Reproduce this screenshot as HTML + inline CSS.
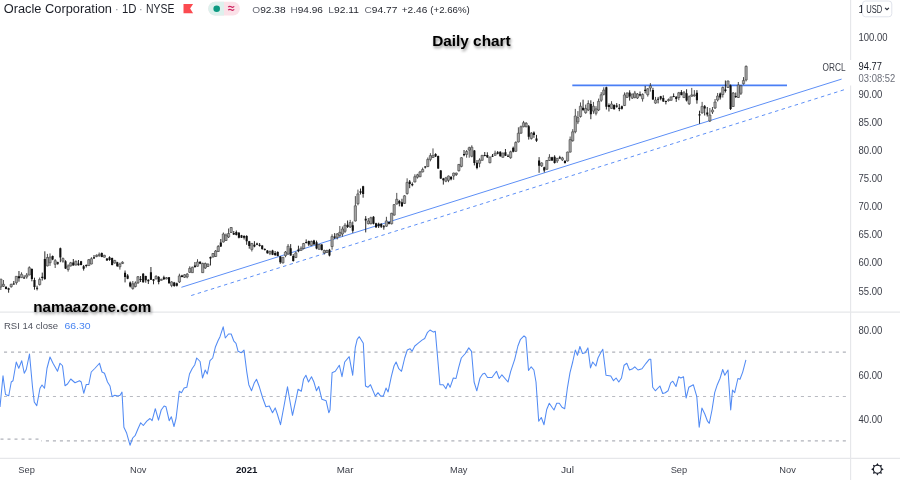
<!DOCTYPE html>
<html><head><meta charset="utf-8"><title>Oracle Corporation · 1D · NYSE</title>
<style>
html,body{margin:0;padding:0;width:900px;height:480px;overflow:hidden;background:#fff;}
body{position:relative;font-family:"Liberation Sans",Arial,sans-serif;}
svg{position:absolute;left:0;top:0;display:block;will-change:transform;}
.ax{font-family:"Liberation Sans",Arial,sans-serif;font-size:10.2px;fill:#3b3e48;}
.tm{font-family:"Liberation Sans",Arial,sans-serif;font-size:9.5px;fill:#3b3e48;}
.hd{font-family:"Liberation Sans",Arial,sans-serif;}
.sh{font-family:"Liberation Sans",Arial,sans-serif;font-weight:bold;fill:#000;}
</style></head><body>
<svg width="900" height="480" viewBox="0 0 900 480">
<defs>
<filter id="tsh" x="-10%" y="-30%" width="120%" height="180%">
<feGaussianBlur in="SourceAlpha" stdDeviation="1.4"/>
<feOffset dx="0.8" dy="2.4" result="b"/>
<feComponentTransfer><feFuncA type="linear" slope="0.45"/></feComponentTransfer>
<feMerge><feMergeNode/><feMergeNode in="SourceGraphic"/></feMerge>
</filter>
</defs>
<!-- pane separators -->
<g stroke="#e6e7ea" stroke-width="1.15" fill="none">
<path d="M850.6 0V480"/>
<path d="M0 312.1H900"/>
<path d="M0 458.3H900"/>
</g>
<!-- RSI bands -->
<g stroke="#b0b2ba" stroke-width="1.2" fill="none" stroke-dasharray="3.1 3.89">
<path d="M4 352.2H849"/>
<path d="M0.5 439.1H40" stroke-dasharray="3 4"/>
<path d="M41.4 440.9H42"/>
<path d="M45.9 440.9H849"/>
<path d="M4 396.5H849" stroke="#b9bbc2" stroke-width="1.1"/>
</g>
<!-- RSI line -->
<path d="M0 407 L3 375.75 L5.5 394.5 L8.75 395.75 L11.25 382 L13 380.75 L16.25 362 L18.75 368.25 L21.75 360.75 L24.25 373.25 L26.25 369.5 L29.5 354 L32.5 387 L34.25 402 L36.75 405.75 L40 388.25 L42 385 L44.5 388.25 L47 368.25 L50 357 L53 363.25 L57.5 371.25 L60 363.25 L62.5 365.75 L65 385.75 L67.5 384 L70.75 379 L75 382.75 L79.5 380.75 L81.25 382 L83.75 393.25 L86.25 384.5 L88.75 384.5 L91.25 372 L95 368.25 L99.5 363.25 L102 372 L104.5 373.25 L107.5 382 L110 386 L112.1 396.7 L114.8 395.3 L118 396.1 L120.1 395.3 L122 392.1 L123.9 427.3 L126.5 432.7 L130 445.2 L132.7 438 L135.3 435.3 L138 428.7 L140.7 422.8 L143.3 425.5 L146.8 421.2 L150 418.5 L152.1 420.7 L155.3 408.7 L158.5 420.1 L161.2 410 L164.1 406 L166 406.8 L169.2 420.7 L171.3 416.7 L174 426.5 L176.1 418 L179.3 391.3 L181.5 392.7 L184.1 388.1 L186.8 387.3 L189.5 374 L192.1 368.7 L194.8 364.7 L196.7 358 L200.1 361.5 L202.5 378 L205.2 370 L207.3 374 L210 360.7 L212.7 358 L215.3 347.3 L218 340.7 L220 336.7 L223.2 326.8 L225.3 338 L228.5 334 L231.2 334 L233.9 341.2 L236 343.3 L238.1 351.3 L241.3 352.7 L244 350 L246.7 371.3 L248.8 384.7 L251.5 390.8 L254.1 383.3 L256.5 379.3 L259.5 387.3 L262.7 398 L265.9 406.8 L269.3 406 L272.5 412.7 L275.2 407.9 L277.3 414 L280.5 424.7 L284 406 L287.5 386.8 L290.1 402 L292.5 415.3 L296 399.3 L298.1 389.2 L301.3 391.3 L303.5 379.3 L305.9 375.3 L308.5 382 L311.5 376.7 L313.9 382 L316.5 390.8 L318.7 386.5 L321.9 399.3 L326.1 400.7 L328.8 412.7 L330 410 L332.1 372.7 L335.3 371.3 L339.3 365.2 L342 376.7 L344.7 362 L349.2 356.7 L352.7 375.3 L355.3 347.3 L357.2 339.3 L359.3 336.7 L363.3 343.3 L365.5 386 L367.9 387.3 L370.5 384.7 L375.3 396.1 L378 392.7 L380.7 396.1 L383.3 396.1 L386 388.1 L388.1 391.9 L391.3 376.7 L394 366 L396.1 362 L398.8 368.7 L401.5 371.3 L404.7 358 L407.3 350 L410 348.7 L412.1 351.3 L414.8 346 L418 343.3 L422 340.1 L424.7 338.5 L427.3 332.7 L430 330 L433.5 332.1 L435.3 331.3 L438 362 L439.9 384.7 L443.2 384.7 L445.9 388.7 L448 383.3 L450.1 387.3 L453.3 378 L456 378.5 L458.7 367.3 L461.3 358 L465.3 353.5 L468.8 347.9 L471.5 351.3 L474.1 382 L476.8 390.8 L480 378 L482.7 374 L484.8 373.2 L487.5 377.5 L492 377.5 L496.5 371.3 L499.2 378.5 L501.9 374.8 L508 382 L510.7 371.3 L514.7 359.3 L517.9 346 L520.5 339.3 L524 335.9 L525.9 337.5 L528.5 370.5 L531.2 366.8 L533.9 370 L536 382 L538.7 421.2 L541.3 417.5 L544 424.7 L546.7 409.5 L549.3 403.3 L552 407.3 L554 410 L556.7 403.3 L559.3 403.3 L562 407.3 L564.7 408.7 L567.3 388.7 L570 372.7 L572.7 362 L575.3 350 L577.5 355.3 L579.9 346.5 L582.5 353.5 L585.2 352.7 L587.9 347.9 L590.5 367.9 L592.7 362 L595.9 366 L598 358 L600.7 352.7 L602.8 349.2 L606 375.3 L610.8 375.9 L613.5 380.7 L616.1 378 L618.8 382 L621.5 378 L624.1 365.2 L626.8 363.3 L629.5 370 L632.7 368.7 L634.8 366.8 L638 370 L642 368.7 L646 363.3 L649.2 359.3 L650.8 359.3 L652.7 387.3 L655.3 390.8 L659.9 386 L662.7 393.5 L665.3 392.7 L668 390.8 L670.7 382.8 L672.8 381.2 L676 386.5 L678.7 376.7 L680.8 378 L683.5 376.7 L686.1 398 L688.8 387.3 L693.3 384.7 L696.8 396.7 L699.2 427.3 L701.9 408.1 L704.8 414 L707.5 421.2 L709.3 423.3 L712 410 L714.7 392.7 L717.3 384.7 L720 378.5 L722.7 369.5 L724.8 375.3 L728 370 L730.7 410 L732.5 390 L734.7 392.7 L737.9 378.5 L740 379.3 L742.7 372.1 L745.9 359.9" stroke="#528bf4" stroke-width="1.05" fill="none" stroke-linejoin="round"/>
<!-- trend lines -->
<path d="M181.4 287.3L841.6 79.1" stroke="#5d8ff6" stroke-width="1" fill="none"/>
<path d="M189.4 296.1L846.2 89.1" stroke="#5d8ff6" stroke-width="1" fill="none" stroke-dasharray="3.5 3.378" stroke-dashoffset="-1.86"/>
<path d="M572.3 85.4H787" stroke="#4a7ff5" stroke-width="1.65" fill="none"/>
<!-- candles -->
<path d="M0.84 279V290M3.43 280V287M11.19 283.7V287.7M16.37 276V284.7M21.54 272.3V278M26.72 273V278.7M29.31 266.3V275.3M39.66 277.5V285.5M47.42 253.9V266.4M50.01 253.4V265.9M55.18 259.1V268M62.95 257.5V262.7M68.12 264.3V271.6M70.71 261.9V266.6M75.89 260.6V265.6M88.82 259V265.9M91.41 257.2V264.4M96.59 254.4V257.2M99.18 252.5V256.9M104.35 254.8V257.6M114.7 259.9V263.6M119.88 262.7V269.6M122.46 261.3V264M132.82 281V289.7M135.4 281.4V287.4M137.99 276V284M156.1 275.3V279.3M161.28 278.7V280.7M166.46 277V279.3M171.63 281.2V287.2M179.39 273.7V283M184.57 274.1V278M187.16 273V278.3M189.74 266.3V273M192.33 266.6V273M197.51 259.2V266.6M202.68 262.7V273M205.27 262.5V269M207.86 263.5V267M213.03 253V257.5M215.62 250V257M218.21 245V252M223.38 232.5V242.5M225.97 233.5V241M228.56 228.5V238M231.15 227V233M251.85 243V251.5M269.96 250.5V255.1M282.9 257V263.5M285.49 251V257.25M288.08 244.1V254.75M295.84 251.6V258M301.02 246.3V250.7M303.6 242.9V249.4M311.37 240.6V246.1M319.13 244.2V249.7M324.3 249.7V254.5M326.89 249.7V252.9M332.07 234.3V249.7M337.24 233.1V239.4M339.83 226V237M342.42 226.5V236.6M345.01 223.2V232.9M350.18 219.9V228M355.36 196.1V221.5M357.95 189.6V205.3M368.3 218V224.4M370.88 216.7V224.4M386.41 216.8V226.8M391.59 212.8V224.4M394.17 204V215.7M396.76 192.9V204.6M404.52 195.2V204M407.11 178.3V194.7M414.87 174.3V182.4M417.46 173.8V178.6M420.05 170.9V177.2M422.64 167.6V172.4M427.81 157.5V167.1M430.4 153.2V161.3M432.99 148.4V158M445.93 176.9V182.2M448.51 175.5V182.2M453.69 172.6V179.8M456.28 172.6V176M458.87 164V171.6M461.45 157.3V167.3M466.63 150V157.7M469.22 146.7V157.7M471.8 145.3V157.3M479.57 158.3V167.3M482.15 155V160.7M489.92 156.7V163.3M495.09 150.7V155.7M502.86 152.7V157.7M510.62 150.7V158.8M515.79 141.3V151.9M518.38 127.3V142.5M520.97 125.6V133.8M523.56 120.9V127.3M526.15 122.1V127.3M531.32 132V139.6M541.67 162.3V167M546.85 160V169.8M549.43 154.2V161M557.2 157.9V163M562.37 156.8V161M567.55 151.6V161.5M570.14 136.5V152.6M572.72 129.2V141.7M575.31 108.9V133.3M577.9 111.1V124.1M580.49 102.4V117.6M585.66 104.6V113.8M588.25 100.3V111.1M593.43 101.9V113.8M596.01 106.2V115.4M598.6 98.6V111.1M601.19 92.1V101.9M603.78 87.3V95.4M611.54 101.2V108.7M624.48 92.4V105.9M627.07 92.4V98M632.24 93.7V99M634.83 90.9V98.4M637.42 93V99M642.59 93.4V101.6M647.77 88.1V96.6M650.36 83.1V91.6M655.53 96.9V103.75M668.47 98.5V101.6M671.06 96.6V100.6M678.82 91.9V100.2M684 91V98M689.17 95.4V105M691.76 87.9V96.7M694.35 90.1V96.7M702.11 101.9V113.75M709.87 108V122M712.46 107V114M715.05 99V109M717.64 93V101.5M722.81 86.5V97.5M727.99 80.5V88M733.16 92V107M738.34 82V98M740.92 85V95M743.51 77.1V84.6M746.1 65.4V81.4" stroke="#3a3a3a" stroke-width="0.9" fill="none"/>
<path d="M-0.31 279h2.3V287h-2.3ZM2.28 284.3h2.3V286.3h-2.3ZM10.04 284.3h2.3V286.7h-2.3ZM15.22 276.3h2.3V282.7h-2.3ZM20.39 274.3h2.3V277.7h-2.3ZM25.57 275h2.3V277h-2.3ZM28.16 267.7h2.3V275h-2.3ZM38.51 279.4h2.3V284.6h-2.3ZM46.27 257.5h2.3V265.9h-2.3ZM48.86 257h2.3V262.75h-2.3ZM54.03 260.7h2.3V264.3h-2.3ZM61.8 258.6h2.3V261.2h-2.3ZM66.97 265.9h2.3V269.5h-2.3ZM69.56 262.8h2.3V265.9h-2.3ZM74.74 261.25h2.3V265h-2.3ZM87.67 259.7h2.3V265.6h-2.3ZM90.26 258.75h2.3V264h-2.3ZM95.44 255.3h2.3V256.6h-2.3ZM98.03 254.4h2.3V255.6h-2.3ZM103.2 255.3h2.3V257.2h-2.3ZM113.55 260.4h2.3V263.1h-2.3ZM118.73 264h2.3V266.8h-2.3ZM121.31 262.2h2.3V263.6h-2.3ZM131.67 283.8h2.3V288.4h-2.3ZM134.25 282.9h2.3V286.5h-2.3ZM136.84 276.7h2.3V282.7h-2.3ZM154.95 276.3h2.3V279h-2.3ZM160.13 279.3h2.3V280.3h-2.3ZM165.31 277.7h2.3V279h-2.3ZM170.48 281.9h2.3V285.4h-2.3ZM178.24 275.9h2.3V281.9h-2.3ZM183.42 274.8h2.3V277.3h-2.3ZM186.01 274.1h2.3V276.9h-2.3ZM188.59 268.4h2.3V272.3h-2.3ZM191.18 267.3h2.3V272.7h-2.3ZM196.36 262h2.3V266.3h-2.3ZM201.53 263.4h2.3V272.7h-2.3ZM204.12 263.5h2.3V268h-2.3ZM206.71 264h2.3V266.5h-2.3ZM211.88 253.5h2.3V257h-2.3ZM214.47 251h2.3V256.5h-2.3ZM217.06 246.5h2.3V251.5h-2.3ZM222.23 234h2.3V242h-2.3ZM224.82 235h2.3V240.5h-2.3ZM227.41 233.5h2.3V237h-2.3ZM230 227.5h2.3V232.5h-2.3ZM250.7 243.4h2.3V249.4h-2.3ZM268.81 251.5h2.3V253.3h-2.3ZM281.75 257.25h2.3V262.9h-2.3ZM284.34 252h2.3V255.7h-2.3ZM286.93 246.3h2.3V254.1h-2.3ZM294.69 252.9h2.3V257.6h-2.3ZM299.87 248.2h2.3V250.4h-2.3ZM302.45 243.5h2.3V248.5h-2.3ZM310.22 241.4h2.3V245.4h-2.3ZM317.98 244.6h2.3V249.3h-2.3ZM323.15 250.5h2.3V252.9h-2.3ZM325.74 250.5h2.3V252.5h-2.3ZM330.92 236.6h2.3V246.5h-2.3ZM336.09 233.9h2.3V237.4h-2.3ZM338.68 232.3h2.3V235.5h-2.3ZM341.27 229h2.3V234h-2.3ZM343.86 225.3h2.3V231.3h-2.3ZM349.03 222.6h2.3V227h-2.3ZM354.21 205.8h2.3V221h-2.3ZM356.8 193.9h2.3V203.7h-2.3ZM367.15 221h2.3V223.7h-2.3ZM369.73 217.75h2.3V223.7h-2.3ZM385.26 220.9h2.3V226.2h-2.3ZM390.44 213.3h2.3V223.8h-2.3ZM393.02 204.6h2.3V215.1h-2.3ZM395.61 199.3h2.3V204h-2.3ZM403.37 195.8h2.3V203.4h-2.3ZM405.96 182.4h2.3V193.5h-2.3ZM413.72 176.7h2.3V182h-2.3ZM416.31 174.8h2.3V177.2h-2.3ZM418.9 171.9h2.3V176.7h-2.3ZM421.49 169.5h2.3V171.9h-2.3ZM426.66 159.4h2.3V166.6h-2.3ZM429.25 155.6h2.3V159.4h-2.3ZM431.84 155.6h2.3V157.5h-2.3ZM444.78 177.9h2.3V181.2h-2.3ZM447.36 176h2.3V180.3h-2.3ZM452.54 173.1h2.3V176h-2.3ZM455.13 173.1h2.3V174.5h-2.3ZM457.72 164.4h2.3V170.7h-2.3ZM460.3 157.7h2.3V166.4h-2.3ZM465.48 151.5h2.3V154.4h-2.3ZM468.07 147.7h2.3V150.1h-2.3ZM470.65 147.2h2.3V156.3h-2.3ZM478.42 160h2.3V163.3h-2.3ZM481 155.3h2.3V160.3h-2.3ZM488.77 157h2.3V162.7h-2.3ZM493.94 153.3h2.3V155.3h-2.3ZM501.71 153h2.3V157.3h-2.3ZM509.47 151.8h2.3V157.7h-2.3ZM514.64 142.5h2.3V151.3h-2.3ZM517.23 133.2h2.3V141.9h-2.3ZM519.82 126.75h2.3V133.2h-2.3ZM522.41 122.7h2.3V126.75h-2.3ZM525 123.25h2.3V126.75h-2.3ZM530.17 133.2h2.3V138.4h-2.3ZM540.52 162.9h2.3V165.8h-2.3ZM545.7 160.5h2.3V169.3h-2.3ZM548.28 157.3h2.3V160.5h-2.3ZM556.05 158.4h2.3V161h-2.3ZM561.22 157.9h2.3V159.9h-2.3ZM566.4 152.1h2.3V161h-2.3ZM568.99 139.6h2.3V152.1h-2.3ZM571.57 131.8h2.3V140.7h-2.3ZM574.16 116h2.3V131.7h-2.3ZM576.75 117.6h2.3V121.9h-2.3ZM579.34 106.2h2.3V116.5h-2.3ZM584.51 108.4h2.3V112.7h-2.3ZM587.1 103.5h2.3V110h-2.3ZM592.28 106.2h2.3V111.1h-2.3ZM594.86 108.9h2.3V113.3h-2.3ZM597.45 101.3h2.3V110h-2.3ZM600.04 94.8h2.3V100.3h-2.3ZM602.63 90h2.3V94.3h-2.3ZM610.39 104h2.3V108.4h-2.3ZM623.33 94.9h2.3V105.6h-2.3ZM625.92 93h2.3V97.4h-2.3ZM631.09 94h2.3V98.1h-2.3ZM633.68 93h2.3V97.4h-2.3ZM636.27 94h2.3V98h-2.3ZM641.44 94.4h2.3V98.75h-2.3ZM646.62 88.75h2.3V94.7h-2.3ZM649.21 85.9h2.3V88.1h-2.3ZM654.38 100h2.3V103.1h-2.3ZM667.32 99.65h2.3V100.65h-2.3ZM669.91 96.9h2.3V100.3h-2.3ZM677.67 92.75h2.3V97.6h-2.3ZM682.85 92.75h2.3V97.6h-2.3ZM688.02 96.7h2.3V103.7h-2.3ZM690.61 94.9h2.3V96.25h-2.3ZM693.2 94.85h2.3V95.85h-2.3ZM700.96 106.3h2.3V112.9h-2.3ZM708.72 115h2.3V121h-2.3ZM711.31 110h2.3V112h-2.3ZM713.9 102h2.3V108h-2.3ZM716.49 96h2.3V100h-2.3ZM721.66 87.5h2.3V94.5h-2.3ZM726.84 81h2.3V87.5h-2.3ZM732.01 93h2.3V106.5h-2.3ZM737.19 85h2.3V97.5h-2.3ZM739.77 85.8h2.3V93.3h-2.3ZM742.36 80.4h2.3V83.75h-2.3ZM744.95 66.4h2.3V79.9h-2.3Z" fill="#a3a3a3" stroke="#2e2e2e" stroke-width="0.5"/>
<path d="M6.02 286V289.3M8.61 287.7V292.7M13.78 281V284.7M18.96 271V281.7M24.13 275.3V278.7M31.89 268.3V281.3M34.48 277.7V289.7M37.07 285.7V290.4M42.25 272.6V280.5M44.83 251.3V279.9M52.6 255.5V260.2M57.77 261.7V264.8M60.36 247.6V262.2M65.53 260.2V269M73.3 259V265.6M78.47 260V265.6M81.06 260.9V265.3M83.65 265V270.6M86.24 264.4V267.5M94 255V258.75M101.76 252.5V257.2M106.94 258.1V260.8M109.53 256.3V260.8M112.11 257.6V265.4M117.29 261.8V266.8M125.05 270.5V282.4M127.64 274.1V279.2M130.23 281.5V287.4M140.58 276V282M143.17 273V282.7M145.75 275.7V282.7M148.34 279.3V284M150.93 267V280M153.52 279V284.3M158.69 276V284.3M163.87 275.7V280M169.04 277V283.7M174.22 281.9V286.8M176.81 282.6V286.5M181.98 274.8V277.3M194.92 262V267.3M200.1 261.3V264.2M210.45 256.5V265.5M220.8 239V247M233.74 231V235M236.32 230.5V235.5M238.91 232V238.4M241.5 234.9V238M244.09 235.2V239.5M246.67 235.2V244.8M249.26 240.9V248.7M254.44 241.2V247.3M257.02 242.7V245.2M259.61 243V246.6M262.2 245.2V249.8M264.79 248.3V250.5M267.38 250.1V253.7M272.55 249.8V255.1M275.14 251V256M277.73 251.3V256.3M280.31 256V263.8M290.66 244.1V255.7M293.25 254.1V261.6M298.43 245.7V252.25M306.19 239.4V243.5M308.78 240.6V246.1M313.95 239.8V245M316.54 240.6V249.3M321.72 244.2V250.5M329.48 248.9V256.4M334.66 233.1V239M347.59 220.5V228M352.77 221.5V232.9M360.53 188.5V194.5M363.12 185.8V197.7M365.71 216.1V232.4M373.47 216.1V224.4M376.06 222.8V228M378.65 222.7V228M381.23 223.3V228M383.82 225V229.7M389 221.5V224.4M399.35 199.9V206.3M401.94 198.75V206.9M409.7 180V188.2M412.29 182.4V186.3M425.23 166.1V168.5M435.58 153.2V157M438.16 155.6V169M440.75 170V179M443.34 177.9V184.6M451.1 176V180.3M464.04 150V156.3M474.39 150V165.4M476.98 160V169.3M484.74 152V156.3M487.33 152.3V158M492.51 154V157M497.68 151V154.3M500.27 151.3V156.7M505.44 149V156M508.03 154.3V157M513.21 146.6V152.4M528.73 125V139.6M533.91 131.4V137.8M536.5 134.9V141.9M539.08 157.1V172.8M544.26 166.7V172.4M552.02 156.8V161M554.61 155.25V163.6M559.79 155.8V158.9M564.96 160V163.6M583.07 99.7V111.1M590.84 100.3V119.2M606.36 86.7V109.5M608.95 103.4V111.5M614.13 104.3V109.6M616.72 103.1V107.75M619.3 104V111.2M621.89 105.6V109.6M629.65 90.25V100.6M640 91.5V96.5M645.18 85.9V93.4M652.94 87.8V100M658.12 96.9V103.4M660.71 95.9V100.3M663.29 95.3V101.9M665.88 100.6V104.4M673.64 93.4V97.2M676.23 96.25V101.9M681.41 90.1V95.4M686.58 89.25V101.5M696.93 90.1V103.7M699.52 110.7V123.8M704.7 105V115.5M707.28 107V116.5M720.22 92.5V99.5M725.4 80.5V92.5M730.57 84.5V110M735.75 92.5V98" stroke="#111" stroke-width="0.9" fill="none"/>
<path d="M4.97 287h2.1V289h-2.1ZM7.56 288.3h2.1V289.7h-2.1ZM12.73 283.5h2.1V284.5h-2.1ZM17.91 276.3h2.1V278.3h-2.1ZM23.08 277.5h2.1V278.5h-2.1ZM30.84 269h2.1V279h-2.1ZM33.43 280h2.1V287h-2.1ZM36.02 287.7h2.1V288.8h-2.1ZM41.2 276.8h2.1V277.9h-2.1ZM43.78 259.1h2.1V278.9h-2.1ZM51.55 256h2.1V259.6h-2.1ZM56.72 262.2h2.1V263.8h-2.1ZM59.31 248.2h2.1V257.5h-2.1ZM64.48 261.2h2.1V268.5h-2.1ZM72.25 262.5h2.1V265.6h-2.1ZM77.42 263.4h2.1V265.3h-2.1ZM80.01 261.25h2.1V265h-2.1ZM82.6 266.25h2.1V268.75h-2.1ZM85.19 265h2.1V266h-2.1ZM92.95 257.2h2.1V258.4h-2.1ZM100.71 253.1h2.1V256.9h-2.1ZM105.89 258.6h2.1V260.4h-2.1ZM108.48 257.2h2.1V259.9h-2.1ZM111.06 258.1h2.1V265h-2.1ZM116.24 262.2h2.1V266.3h-2.1ZM124 272.8h2.1V276.9h-2.1ZM126.59 275.5h2.1V278.7h-2.1ZM129.18 282.4h2.1V286.5h-2.1ZM139.53 279h2.1V280h-2.1ZM142.12 273.7h2.1V282.3h-2.1ZM144.7 276h2.1V280.3h-2.1ZM147.29 279.7h2.1V281.3h-2.1ZM149.88 272.3h2.1V279.7h-2.1ZM152.47 279.3h2.1V280.7h-2.1ZM157.64 277h2.1V282h-2.1ZM162.82 277.3h2.1V279.3h-2.1ZM167.99 277.3h2.1V283.3h-2.1ZM173.17 282.6h2.1V286.1h-2.1ZM175.76 283.3h2.1V285.8h-2.1ZM180.93 275.5h2.1V276.9h-2.1ZM193.87 265.6h2.1V267.3h-2.1ZM199.05 261.7h2.1V263.8h-2.1ZM209.4 257h2.1V258.5h-2.1ZM219.75 242.5h2.1V246.5h-2.1ZM232.69 233h2.1V234.5h-2.1ZM235.27 232h2.1V235h-2.1ZM237.86 232.7h2.1V237.7h-2.1ZM240.45 235.2h2.1V237.7h-2.1ZM243.04 235.9h2.1V237.7h-2.1ZM245.62 235.9h2.1V241.2h-2.1ZM248.21 241.2h2.1V245.9h-2.1ZM253.39 244.8h2.1V246.6h-2.1ZM255.97 243.4h2.1V244.8h-2.1ZM258.56 244.8h2.1V245.9h-2.1ZM261.15 245.5h2.1V249h-2.1ZM263.74 249h2.1V250.1h-2.1ZM266.33 250.5h2.1V253.3h-2.1ZM271.5 250.5h2.1V254.7h-2.1ZM274.09 252.9h2.1V255.1h-2.1ZM276.68 252h2.1V256h-2.1ZM279.26 256.6h2.1V262.25h-2.1ZM289.61 248.2h2.1V255.4h-2.1ZM292.2 256h2.1V261h-2.1ZM297.38 249.4h2.1V251.3h-2.1ZM305.14 241.95h2.1V242.95h-2.1ZM307.73 241h2.1V244.6h-2.1ZM312.9 240.6h2.1V244.2h-2.1ZM315.49 242.2h2.1V248.5h-2.1ZM320.67 244.6h2.1V250.1h-2.1ZM328.43 249.7h2.1V255.6h-2.1ZM333.61 236.6h2.1V237.8h-2.1ZM346.54 224.8h2.1V227h-2.1ZM351.72 225.3h2.1V230.75h-2.1ZM359.48 191.2h2.1V192.8h-2.1ZM362.07 186.3h2.1V193.9h-2.1ZM364.66 218.8h2.1V220.5h-2.1ZM372.42 216.7h2.1V223.7h-2.1ZM375.01 223.3h2.1V227.3h-2.1ZM377.6 223.8h2.1V226.2h-2.1ZM380.18 223.8h2.1V226.8h-2.1ZM382.77 226.2h2.1V227.3h-2.1ZM387.95 222.1h2.1V223.8h-2.1ZM398.3 201.1h2.1V203.4h-2.1ZM400.89 202.3h2.1V206.3h-2.1ZM408.65 181.5h2.1V183.9h-2.1ZM411.24 183.9h2.1V185.3h-2.1ZM424.18 166.6h2.1V167.6h-2.1ZM434.53 154.1h2.1V156.5h-2.1ZM437.11 156.1h2.1V168.5h-2.1ZM439.7 170.4h2.1V178.6h-2.1ZM442.29 178.4h2.1V180.3h-2.1ZM450.05 176.9h2.1V179.3h-2.1ZM462.99 153.9h2.1V155.3h-2.1ZM473.34 150.5h2.1V163h-2.1ZM475.93 162.7h2.1V168h-2.1ZM483.69 155h2.1V156h-2.1ZM486.28 155h2.1V157.3h-2.1ZM491.46 155.7h2.1V156.7h-2.1ZM496.63 152.3h2.1V153.7h-2.1ZM499.22 151.7h2.1V156.3h-2.1ZM504.39 152.3h2.1V155.7h-2.1ZM506.98 155.7h2.1V156.7h-2.1ZM512.16 147.8h2.1V151.8h-2.1ZM527.68 126.2h2.1V136.7h-2.1ZM532.86 132.6h2.1V134.9h-2.1ZM535.45 138.4h2.1V140.75h-2.1ZM538.03 160.6h2.1V165.8h-2.1ZM543.21 167.2h2.1V170.4h-2.1ZM550.97 157.3h2.1V160.5h-2.1ZM553.56 156.8h2.1V163h-2.1ZM558.74 157.3h2.1V158.4h-2.1ZM563.91 161h2.1V163h-2.1ZM582.02 107.8h2.1V110h-2.1ZM589.79 104h2.1V114.3h-2.1ZM605.31 87.3h2.1V106.75h-2.1ZM607.9 104.9h2.1V107.1h-2.1ZM613.08 104.9h2.1V109.3h-2.1ZM615.67 105.6h2.1V106.8h-2.1ZM618.25 107.75h2.1V109h-2.1ZM620.84 106.2h2.1V108.7h-2.1ZM628.6 92.4h2.1V96.5h-2.1ZM638.95 94.3h2.1V95.6h-2.1ZM644.13 89.7h2.1V90.9h-2.1ZM651.89 90h2.1V99.4h-2.1ZM657.07 98.72h2.1V99.72h-2.1ZM659.66 96.25h2.1V98.75h-2.1ZM662.24 98.1h2.1V101.6h-2.1ZM664.83 100.9h2.1V101.9h-2.1ZM672.59 96.08h2.1V97.08h-2.1ZM675.18 96.7h2.1V98.9h-2.1ZM680.36 91.9h2.1V94.9h-2.1ZM685.53 93.2h2.1V100.6h-2.1ZM695.88 92.75h2.1V100.2h-2.1ZM698.47 114.2h2.1V115.5h-2.1ZM703.65 106.3h2.1V108.5h-2.1ZM706.23 112.5h2.1V114.5h-2.1ZM719.17 93.5h2.1V97.5h-2.1ZM724.35 89.5h2.1V91h-2.1ZM729.52 85.5h2.1V109h-2.1ZM734.7 96h2.1V97h-2.1Z" fill="#111"/>
<!-- last price box -->
<rect x="850" y="60" width="50" height="25.5" fill="#fff"/>
<text x="858.6" y="70.4" class="ax" style="fill:#131722" textLength="23.3" lengthAdjust="spacingAndGlyphs">94.77</text>
<text x="858.6" y="81.7" class="ax" style="fill:#6a6d78" textLength="36.6" lengthAdjust="spacingAndGlyphs">03:08:52</text>
<text x="822.6" y="70.7" style="font-size:10.4px;fill:#3e414b;font-family:'Liberation Sans',Arial,sans-serif" textLength="23" lengthAdjust="spacingAndGlyphs">ORCL</text>
<text x="858.5" y="41.24" class="ax" textLength="29.0" lengthAdjust="spacingAndGlyphs">100.00</text><text x="858.5" y="97.55" class="ax" textLength="23.8" lengthAdjust="spacingAndGlyphs">90.00</text><text x="858.5" y="125.7" class="ax" textLength="23.8" lengthAdjust="spacingAndGlyphs">85.00</text><text x="858.5" y="153.86" class="ax" textLength="23.8" lengthAdjust="spacingAndGlyphs">80.00</text><text x="858.5" y="182.01" class="ax" textLength="23.8" lengthAdjust="spacingAndGlyphs">75.00</text><text x="858.5" y="210.17" class="ax" textLength="23.8" lengthAdjust="spacingAndGlyphs">70.00</text><text x="858.5" y="238.32" class="ax" textLength="23.8" lengthAdjust="spacingAndGlyphs">65.00</text><text x="858.5" y="266.48" class="ax" textLength="23.8" lengthAdjust="spacingAndGlyphs">60.00</text><text x="858.5" y="294.63" class="ax" textLength="23.8" lengthAdjust="spacingAndGlyphs">55.00</text>
<text x="858.5" y="334.15" class="ax" textLength="23.8" lengthAdjust="spacingAndGlyphs">80.00</text><text x="858.5" y="378.55" class="ax" textLength="23.8" lengthAdjust="spacingAndGlyphs">60.00</text><text x="858.5" y="422.95" class="ax" textLength="23.8" lengthAdjust="spacingAndGlyphs">40.00</text>
<!-- USD box -->
<text x="858.6" y="12.7" class="ax" style="font-size:10px;fill:#131722">1</text>
<rect x="862.5" y="1" width="29.3" height="15.8" rx="3" fill="#fff" stroke="#e0e3eb" stroke-width="1"/>
<text x="866.3" y="12.8" style="font-size:10px;fill:#2a2e39;font-family:'Liberation Sans',Arial,sans-serif" textLength="16" lengthAdjust="spacingAndGlyphs">USD</text>
<path d="M885.1 7.9l1.9 1.7 1.9-1.7" stroke="#2a2e39" stroke-width="1.25" fill="none"/>
<!-- time axis -->
<text x="18.3" y="473.3" class="tm" textLength="16.5" lengthAdjust="spacingAndGlyphs">Sep</text>
<text x="130" y="473.3" class="tm" textLength="16.5" lengthAdjust="spacingAndGlyphs">Nov</text>
<text x="236" y="473.3" class="tm" style="font-weight:bold;fill:#131722" textLength="21.5" lengthAdjust="spacingAndGlyphs">2021</text>
<text x="336.7" y="473.3" class="tm" textLength="16.8" lengthAdjust="spacingAndGlyphs">Mar</text>
<text x="450" y="473.3" class="tm" textLength="17.5" lengthAdjust="spacingAndGlyphs">May</text>
<text x="561" y="473.3" class="tm" textLength="13.1" lengthAdjust="spacingAndGlyphs">Jul</text>
<text x="670.7" y="473.3" class="tm" textLength="16.5" lengthAdjust="spacingAndGlyphs">Sep</text>
<text x="779.3" y="473.3" class="tm" textLength="16.5" lengthAdjust="spacingAndGlyphs">Nov</text>
<!-- gear -->
<g transform="translate(877.4 469.3)" fill="#131722">
<circle r="4" fill="none" stroke="#131722" stroke-width="1.1"/>
<path d="M-1.2 -4.3L0 -6.3L1.2 -4.3Z"/>
<path d="M-1.2 -4.3L0 -6.3L1.2 -4.3Z" transform="rotate(45)"/>
<path d="M-1.2 -4.3L0 -6.3L1.2 -4.3Z" transform="rotate(90)"/>
<path d="M-1.2 -4.3L0 -6.3L1.2 -4.3Z" transform="rotate(135)"/>
<path d="M-1.2 -4.3L0 -6.3L1.2 -4.3Z" transform="rotate(180)"/>
<path d="M-1.2 -4.3L0 -6.3L1.2 -4.3Z" transform="rotate(225)"/>
<path d="M-1.2 -4.3L0 -6.3L1.2 -4.3Z" transform="rotate(270)"/>
<path d="M-1.2 -4.3L0 -6.3L1.2 -4.3Z" transform="rotate(315)"/>
</g>
<!-- header -->
<g class="hd" style="font-size:12.3px;fill:#1c1f28">
<text x="3.7" y="12.95" textLength="108.3" lengthAdjust="spacingAndGlyphs">Oracle Corporation</text>
<text x="116.9" y="13" text-anchor="middle" fill="#9598a1">·</text>
<text x="122" y="12.95" textLength="14.5" lengthAdjust="spacingAndGlyphs">1D</text>
<text x="140.9" y="13" text-anchor="middle" fill="#9598a1">·</text>
<text x="146" y="12.95" textLength="28.4" lengthAdjust="spacingAndGlyphs">NYSE</text>
</g>
<path d="M183.5 4H193.1L190.1 8.6L193.1 13.3H183.5Z" fill="#fb4a50"/>
<rect x="208.2" y="1.8" width="31.7" height="13.8" rx="6.9" fill="#fbe1e8"/>
<path d="M215.1 1.8H224V15.6H215.1A6.9 6.9 0 0 1 215.1 1.8Z" fill="#ddf1ed"/>
<circle cx="216.7" cy="8.7" r="3.3" fill="#0c9a82"/>
<path d="M228.2 7.2q1.4-1.6 3 -0.4t3-0.4M228.2 10.2q1.4-1.6 3 -0.4t3-0.4" stroke="#cc1f5c" stroke-width="1.2" fill="none"/>
<g class="hd" style="font-size:9.8px;stroke-width:0.15px">
<text x="252.3" y="13.4" textLength="33.3" lengthAdjust="spacingAndGlyphs"><tspan fill="#676a75">O</tspan><tspan fill="#1f222b">92.38</tspan></text>
<text x="290.5" y="13.4" textLength="32.4" lengthAdjust="spacingAndGlyphs"><tspan fill="#676a75">H</tspan><tspan fill="#1f222b">94.96</tspan></text>
<text x="328.3" y="13.4" textLength="30.6" lengthAdjust="spacingAndGlyphs"><tspan fill="#676a75">L</tspan><tspan fill="#1f222b">92.11</tspan></text>
<text x="364.5" y="13.4" textLength="32.8" lengthAdjust="spacingAndGlyphs"><tspan fill="#676a75">C</tspan><tspan fill="#1f222b">94.77</tspan></text>
<text x="401.7" y="13.4" textLength="25.6" lengthAdjust="spacingAndGlyphs" fill="#1f222b">+2.46</text>
<text x="430.3" y="13.4" textLength="39.4" lengthAdjust="spacingAndGlyphs" fill="#1f222b">(+2.66%)</text>
</g>
<!-- RSI legend -->
<text x="3.9" y="328.9" style="font-size:9.6px;fill:#50535e;font-family:'Liberation Sans',Arial,sans-serif" textLength="54.2" lengthAdjust="spacingAndGlyphs">RSI 14 close</text>
<text x="64.4" y="328.8" style="font-size:9.7px;fill:#4a86f2;font-family:'Liberation Sans',Arial,sans-serif" textLength="26.2" lengthAdjust="spacingAndGlyphs">66.30</text>
<!-- overlays -->
<text x="432.2" y="46.1" class="sh" style="font-size:15.35px" filter="url(#tsh)">Daily chart</text>
<text x="33.2" y="311.9" class="sh" style="font-size:15.2px" filter="url(#tsh)">namaazone.com</text>
</svg>
</body></html>
